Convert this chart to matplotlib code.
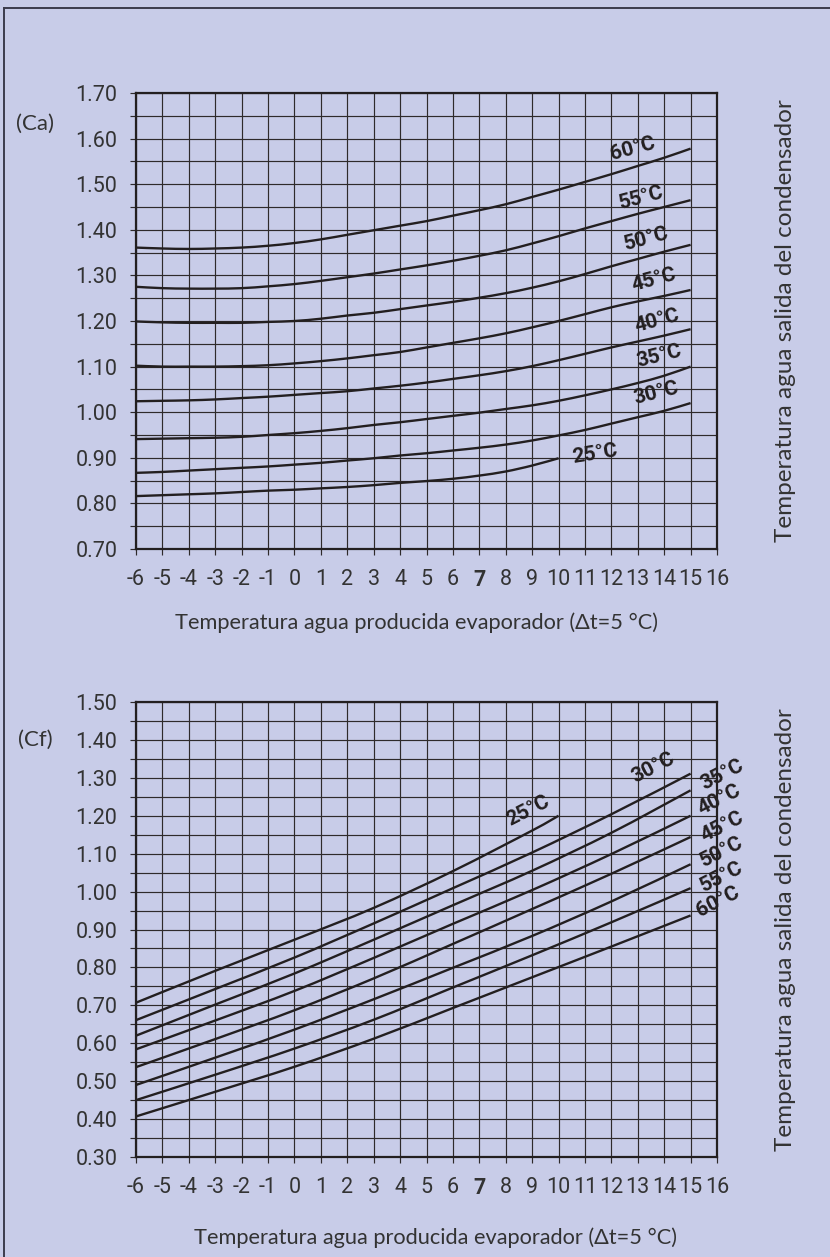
import matplotlib
matplotlib.use('Agg')
import matplotlib.pyplot as plt
from matplotlib.lines import Line2D
from matplotlib.path import Path
from matplotlib.patches import PathPatch
from matplotlib.ticker import MultipleLocator

# ---------------------------------------------------------
# datos: coeficientes de corrección (Ca = calefacción, Cf = frío)
# ---------------------------------------------------------
temps = ['60°C', '55°C', '50°C', '45°C', '40°C', '35°C', '30°C', '25°C']

ca_x = list(range(-6, 16))
ca_x25 = list(range(-6, 11))
ca_60 = [1.361, 1.359, 1.358, 1.359, 1.361, 1.365, 1.371, 1.379, 1.389, 1.399, 1.409,
         1.419, 1.431, 1.443, 1.456, 1.472, 1.488, 1.505, 1.522, 1.540, 1.558, 1.578]
ca_55 = [1.275, 1.272, 1.271, 1.271, 1.272, 1.276, 1.281, 1.288, 1.296, 1.304, 1.313,
         1.322, 1.332, 1.343, 1.355, 1.370, 1.386, 1.403, 1.419, 1.435, 1.450, 1.465]
ca_50 = [1.199, 1.197, 1.196, 1.196, 1.196, 1.198, 1.200, 1.205, 1.212, 1.218, 1.226,
         1.234, 1.242, 1.251, 1.261, 1.273, 1.287, 1.303, 1.320, 1.336, 1.352, 1.367]
ca_45 = [1.102, 1.100, 1.100, 1.100, 1.101, 1.103, 1.107, 1.112, 1.118, 1.125, 1.132,
         1.142, 1.152, 1.162, 1.173, 1.186, 1.200, 1.215, 1.230, 1.243, 1.255, 1.268]
ca_40 = [1.024, 1.025, 1.026, 1.028, 1.031, 1.034, 1.038, 1.042, 1.046, 1.052, 1.058,
         1.065, 1.073, 1.081, 1.090, 1.101, 1.114, 1.128, 1.142, 1.155, 1.168, 1.182]
ca_35 = [0.941, 0.942, 0.943, 0.944, 0.946, 0.950, 0.954, 0.959, 0.965, 0.972, 0.978,
         0.985, 0.992, 0.999, 1.007, 1.015, 1.025, 1.037, 1.050, 1.064, 1.080, 1.100]
ca_30 = [0.867, 0.869, 0.872, 0.875, 0.878, 0.881, 0.885, 0.889, 0.894, 0.899, 0.905,
         0.910, 0.916, 0.922, 0.929, 0.938, 0.949, 0.961, 0.975, 0.989, 1.003, 1.020]
ca_25 = [0.816, 0.818, 0.820, 0.822, 0.825, 0.828, 0.830, 0.833, 0.836, 0.840, 0.845,
         0.849, 0.854, 0.861, 0.870, 0.883, 0.899]

cf_x = [-6, -3, 0, 3, 6, 9, 12, 15]
cf_x25 = [-6, -3, 0, 3, 6, 9, 10]
cf_60 = [0.407, 0.472, 0.538, 0.612, 0.693, 0.774, 0.855, 0.937]
cf_55 = [0.450, 0.517, 0.586, 0.662, 0.747, 0.832, 0.919, 1.009]
cf_50 = [0.490, 0.562, 0.636, 0.716, 0.799, 0.883, 0.974, 1.072]
cf_45 = [0.537, 0.611, 0.687, 0.771, 0.862, 0.954, 1.047, 1.144]
cf_40 = [0.584, 0.660, 0.738, 0.825, 0.915, 1.004, 1.099, 1.200]
cf_35 = [0.620, 0.702, 0.784, 0.873, 0.964, 1.055, 1.155, 1.267]
cf_30 = [0.661, 0.743, 0.826, 0.916, 1.009, 1.103, 1.204, 1.311]
cf_25 = [0.707, 0.791, 0.873, 0.957, 1.054, 1.161, 1.200]

x_ticks = list(range(-6, 17))
x_label = 'Temperatura agua producida evaporador (Δt=5 °C)'
y_label = 'Temperatura agua salida del condensador'

# posición de las etiquetas de cada curva (x, y, ángulo)
ca_lbl_pos = [(12.8, 1.578, 15), (13.15, 1.470, 15), (13.34, 1.380, 15), (13.6, 1.290, 15),
              (13.72, 1.200, 15), (13.8, 1.122, 14), (13.7, 1.042, 14), (11.38, 0.908, 9)]
cf_lbl_pos = [(16.05, 0.973, 27), (16.18, 1.039, 27), (16.18, 1.105, 27), (16.18, 1.171, 27),
              (16.1, 1.242, 27), (16.18, 1.309, 27), (13.6, 1.327, 27), (8.84, 1.212, 27)]

BG = '#C8CCE8'
INK = '#231F20'
TXT = '#333333'
NUM_FONT = 'Roboto'
LBL_FONT = 'Lato'

fig = plt.figure(figsize=(8.3, 12.57), dpi=100, facecolor=BG)

# marco exterior (solo arriba e izquierda)
fig.add_artist(Line2D([4/830, 1], [1 - 8/1257, 1 - 8/1257], color='#3C3C4C', lw=1.4))
fig.add_artist(Line2D([4/830, 4/830], [0, 1 - 8/1257], color='#3C3C4C', lw=1.4))


def smooth_path(xs, ys):
    # curva suave (Catmull-Rom -> Bézier cúbica) que pasa por los puntos
    pts = list(zip(xs, ys))
    verts, codes = [pts[0]], [Path.MOVETO]
    for i in range(len(pts) - 1):
        p0 = pts[i - 1] if i > 0 else pts[i]
        p1, p2 = pts[i], pts[i + 1]
        p3 = pts[i + 2] if i + 2 < len(pts) else pts[i + 1]
        c1 = (p1[0] + (p2[0] - p0[0]) / 6, p1[1] + (p2[1] - p0[1]) / 6)
        c2 = (p2[0] - (p3[0] - p1[0]) / 6, p2[1] - (p3[1] - p1[1]) / 6)
        verts += [c1, c2, p2]
        codes += [Path.CURVE4] * 3
    return Path(verts, codes)


def panel(rect, ymin, ymax, series, lbl_pos, tag, tag_y, xlab_xy):
    ax = fig.add_axes(rect, facecolor=BG)
    for (xs, ys), name, (lx, ly, rot) in zip(series, temps, lbl_pos):
        ax.add_patch(PathPatch(smooth_path(xs, ys), fill=False, edgecolor=INK,
                               lw=1.7, capstyle='butt', zorder=3))
        ax.text(lx, ly, name, rotation=rot, ha='center', va='center',
                fontsize=15, fontweight='bold', family=NUM_FONT, color=INK,
                clip_on=False, zorder=4, rotation_mode='anchor')
    ax.set_xlim(-6, 16)
    ax.set_ylim(ymin, ymax)
    ax.xaxis.set_major_locator(MultipleLocator(1))
    ax.yaxis.set_major_locator(MultipleLocator(0.1))
    ax.yaxis.set_minor_locator(MultipleLocator(0.05))
    ax.grid(True, which='both', color='#2E2A2B', lw=0.85)
    ax.set_axisbelow(True)
    for s in ax.spines.values():
        s.set_color(INK)
        s.set_linewidth(1.6)
    ax.tick_params(axis='both', which='both', direction='out', length=4.5,
                   width=0.85, color='#2E2A2B', labelcolor=TXT)
    ax.tick_params(axis='y', which='major', pad=9, labelsize=15.5)
    ax.tick_params(axis='x', which='major', pad=10, labelsize=15.5)
    ax.set_xticks(x_ticks)
    ax.set_xticklabels([str(v) for v in x_ticks], family=NUM_FONT)
    ax.set_yticklabels([f'{v:.2f}' for v in ax.get_yticks()], family=NUM_FONT)
    for t in ax.get_xticklabels():
        if t.get_text() == '7':
            t.set_fontweight('bold')
    fig.text(xlab_xy[0] / 830, 1 - xlab_xy[1] / 1257, x_label, family=LBL_FONT,
             fontsize=15.7, color=TXT, ha='center', va='center')
    ax.text((786 - 136) / 581, 0.5, y_label, transform=ax.transAxes,
            family=LBL_FONT, fontsize=17.5, color=TXT, rotation=90,
            ha='center', va='center')
    fig.text(35/830, 1 - tag_y/1257, tag, family=LBL_FONT, fontsize=16,
             color=TXT, ha='center', va='center')
    return ax


ca_series = [(ca_x, ca_60), (ca_x, ca_55), (ca_x, ca_50), (ca_x, ca_45),
             (ca_x, ca_40), (ca_x, ca_35), (ca_x, ca_30), (ca_x25, ca_25)]
cf_series = [(cf_x, cf_60), (cf_x, cf_55), (cf_x, cf_50), (cf_x, cf_45),
             (cf_x, cf_40), (cf_x, cf_35), (cf_x, cf_30), (cf_x25, cf_25)]

panel([136/830, 1 - 549/1257, 581/830, 456/1257], 0.70, 1.70,
      ca_series, ca_lbl_pos, '(Ca)', 124, (416, 623))
panel([136/830, 1 - 1157/1257, 581/830, 455/1257], 0.30, 1.50,
      cf_series, cf_lbl_pos, '(Cf)', 740, (435, 1238))

fig.savefig('out.png', dpi=100, facecolor=BG)
